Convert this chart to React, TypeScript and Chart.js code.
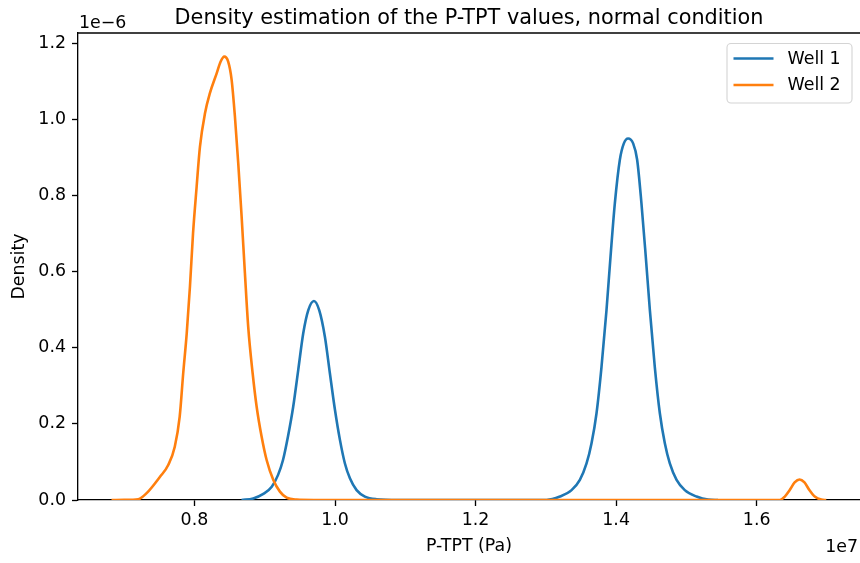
import React, { useEffect, useRef } from 'react';
import { Chart, registerables } from 'chart.js';

Chart.register(...registerables);

const chartTitle = 'Density estimation of the P-TPT values, normal condition';
const xLabel = 'P-TPT (Pa)';
const yLabel = 'Density';
const xExponent = '1e7';
const yExponent = '1e\u22126';
const seriesNames = ['Well 1', 'Well 2'];
const seriesColors = ['#1f77b4', '#ff7f0e'];

const xTicks = [0.8, 1.0, 1.2, 1.4, 1.6];
const yTicks = [0.0, 0.2, 0.4, 0.6, 0.8, 1.0, 1.2];

// Well 1 (x in 1e7 Pa, density in 1e-6)
const well1X = [
  0.867, 0.8836, 0.898, 0.910, 0.919, 0.926, 0.933, 0.9405, 0.9477, 0.9548, 0.962, 0.970,
  0.9775, 0.9856, 0.9927, 0.9999, 1.007, 1.0141, 1.0212, 1.0307, 1.0425, 1.0592, 1.09,
  1.20, 1.301, 1.320, 1.3366, 1.3484, 1.3579, 1.365, 1.3721, 1.3792, 1.3863, 1.392, 1.3982,
  1.4053, 1.411, 1.417, 1.4242, 1.4299, 1.436, 1.4422, 1.448, 1.455, 1.4622, 1.4693, 1.4764,
  1.486, 1.4977, 1.5144, 1.531, 1.545,
];
const well1Y = [
  0.0, 0.004, 0.016, 0.035, 0.066, 0.105, 0.166, 0.245, 0.342, 0.438, 0.499, 0.523,
  0.499, 0.429, 0.333, 0.237, 0.158, 0.096, 0.057, 0.026, 0.009, 0.002, 0.0,
  0.0, 0.0, 0.009, 0.026, 0.053, 0.096, 0.149, 0.228, 0.350, 0.499, 0.639, 0.780,
  0.894, 0.937, 0.950, 0.937, 0.894, 0.780, 0.639, 0.499, 0.350, 0.228, 0.149, 0.096,
  0.053, 0.026, 0.009, 0.001, 0.0,
];

// Well 2
const well2X = [
  0.682, 0.700, 0.720, 0.732, 0.751, 0.7627, 0.772, 0.779, 0.784, 0.789, 0.7936, 0.798,
  0.8031, 0.8078, 0.815, 0.822, 0.8316, 0.8373, 0.8424, 0.848, 0.8529, 0.8576, 0.8623,
  0.8671, 0.8718, 0.8765, 0.8828, 0.8885, 0.8956, 0.9027, 0.9121, 0.9216, 0.9312, 0.9454,
  0.97, 1.2, 1.5, 1.633, 1.640, 1.647, 1.654, 1.661, 1.668, 1.675, 1.6826, 1.692, 1.699,
];
const well2Y = [
  0.0, 0.0005, 0.002, 0.018, 0.061, 0.092, 0.140, 0.219, 0.333, 0.438, 0.561, 0.701,
  0.823, 0.928, 1.016, 1.069, 1.121, 1.152, 1.165, 1.152, 1.104, 1.007, 0.885,
  0.745, 0.596, 0.455, 0.333, 0.245, 0.166, 0.105, 0.053, 0.022, 0.006, 0.001,
  0.0, 0.0, 0.0, 0.0, 0.009, 0.026, 0.046, 0.054, 0.046, 0.026, 0.009, 0.001, 0.0,
];

const FONT = '"DejaVu Sans", sans-serif';
const TICK_SIZE = 17.4;
const TITLE_SIZE = 20.8;
const LINE_W = 2.6;

const decoPlugin = {
  id: 'deco',
  afterDraw(chart: any) {
    const ctx = chart.ctx;
    const a = chart.chartArea;
    ctx.save();
    // top spine
    ctx.strokeStyle = '#000';
    ctx.lineWidth = 1.33;
    ctx.beginPath();
    ctx.moveTo(a.left - 0.5, a.top);
    ctx.lineTo(a.right, a.top);
    ctx.stroke();

    // title
    ctx.fillStyle = '#000';
    ctx.font = `${TITLE_SIZE}px ${FONT}`;
    ctx.textAlign = 'center';
    ctx.textBaseline = 'alphabetic';
    ctx.fillText(chartTitle, (a.left + a.right) / 2, a.top - 9.5);

    // offset texts
    ctx.font = `${TICK_SIZE}px ${FONT}`;
    ctx.textAlign = 'left';
    ctx.fillText(yExponent, a.left + 1, a.top - 5);
    ctx.textAlign = 'right';
    ctx.fillText(xExponent, a.right - 2, chart.height - 11);

    // legend
    const bx = a.right - 133;
    const by = a.top + 10.5;
    const bw = 125;
    const bh = 59.5;
    const r = 4;
    ctx.beginPath();
    ctx.moveTo(bx + r, by);
    ctx.lineTo(bx + bw - r, by);
    ctx.arcTo(bx + bw, by, bx + bw, by + r, r);
    ctx.lineTo(bx + bw, by + bh - r);
    ctx.arcTo(bx + bw, by + bh, bx + bw - r, by + bh, r);
    ctx.lineTo(bx + r, by + bh);
    ctx.arcTo(bx, by + bh, bx, by + bh - r, r);
    ctx.lineTo(bx, by + r);
    ctx.arcTo(bx, by, bx + r, by, r);
    ctx.closePath();
    ctx.fillStyle = 'rgba(255,255,255,0.8)';
    ctx.fill();
    ctx.strokeStyle = '#d4d4d4';
    ctx.lineWidth = 1.1;
    ctx.stroke();

    const rowY = [by + 15, by + 41.5];
    seriesNames.forEach((name, i) => {
      ctx.strokeStyle = seriesColors[i];
      ctx.lineWidth = LINE_W;
      ctx.beginPath();
      ctx.moveTo(bx + 6.5, rowY[i]);
      ctx.lineTo(bx + 46.5, rowY[i]);
      ctx.stroke();
      ctx.fillStyle = '#000';
      ctx.font = `${TICK_SIZE}px ${FONT}`;
      ctx.textAlign = 'left';
      ctx.textBaseline = 'middle';
      ctx.fillText(name, bx + 60.5, rowY[i] + 0.5);
    });
    ctx.restore();
  },
};

export default function App() {
  const ref = useRef<HTMLCanvasElement | null>(null);

  useEffect(() => {
    document.body.style.margin = '0';
    const canvas = ref.current;
    if (!canvas) return;
    const mk = (xs: number[], ys: number[]) => xs.map((x, i) => ({ x, y: ys[i] }));
    const chart = new Chart(canvas, {
      type: 'line',
      data: {
        datasets: [
          {
            label: seriesNames[1],
            data: mk(well2X, well2Y),
            borderColor: seriesColors[1],
            borderWidth: LINE_W,
            pointRadius: 0,
            cubicInterpolationMode: 'monotone',
            fill: false,
          },
          {
            label: seriesNames[0],
            data: mk(well1X, well1Y),
            borderColor: seriesColors[0],
            borderWidth: LINE_W,
            pointRadius: 0,
            cubicInterpolationMode: 'monotone',
            fill: false,
          },
        ],
      },
      options: {
        animation: false,
        responsive: false,
        maintainAspectRatio: false,
        devicePixelRatio: 1,
        layout: { padding: { top: 33, left: 0, right: 0, bottom: 0 } },
        plugins: {
          legend: { display: false },
          title: { display: false },
          tooltip: { enabled: false },
        },
        scales: {
          x: {
            type: 'linear',
            min: 0.6343,
            max: 1.747,
            afterBuildTicks: (s: any) => {
              s.ticks = xTicks.map((v) => ({ value: v }));
            },
            afterFit: (s: any) => {
              s.height = 63;
            },
            ticks: {
              autoSkip: false,
              maxRotation: 0,
              padding: 4,
              color: '#000',
              font: { family: FONT, size: TICK_SIZE },
              callback: (v: any) => Number(v).toFixed(1),
            },
            grid: {
              display: true,
              drawOnChartArea: false,
              drawTicks: true,
              tickLength: 6,
              tickWidth: 1.33,
              tickColor: '#000',
            },
            border: { display: true, color: '#000', width: 1.33 },
            title: {
              display: true,
              text: xLabel,
              color: '#000',
              font: { family: FONT, size: TICK_SIZE },
              padding: { top: 0, bottom: 5.6 },
            },
          },
          y: {
            type: 'linear',
            min: 0,
            max: 1.227,
            afterBuildTicks: (s: any) => {
              s.ticks = yTicks.map((v) => ({ value: v }));
            },
            afterFit: (s: any) => {
              s.width = 78;
            },
            ticks: {
              autoSkip: false,
              padding: 6,
              color: '#000',
              font: { family: FONT, size: TICK_SIZE },
              callback: (v: any) => Number(v).toFixed(1),
            },
            grid: {
              display: true,
              drawOnChartArea: false,
              drawTicks: true,
              tickLength: 6,
              tickWidth: 1.33,
              tickColor: '#000',
            },
            border: { display: true, color: '#000', width: 1.33 },
            title: {
              display: true,
              text: yLabel,
              color: '#000',
              font: { family: FONT, size: TICK_SIZE },
              padding: { top: 9.5, bottom: 0 },
            },
          },
        },
      },
      plugins: [decoPlugin],
    } as any);
    return () => chart.destroy();
  }, []);

  return (
    <div style={{ width: 860, height: 563, background: '#fff' }}>
      <canvas ref={ref} width={860} height={563} style={{ display: 'block', width: 860, height: 563 }} />
    </div>
  );
}
